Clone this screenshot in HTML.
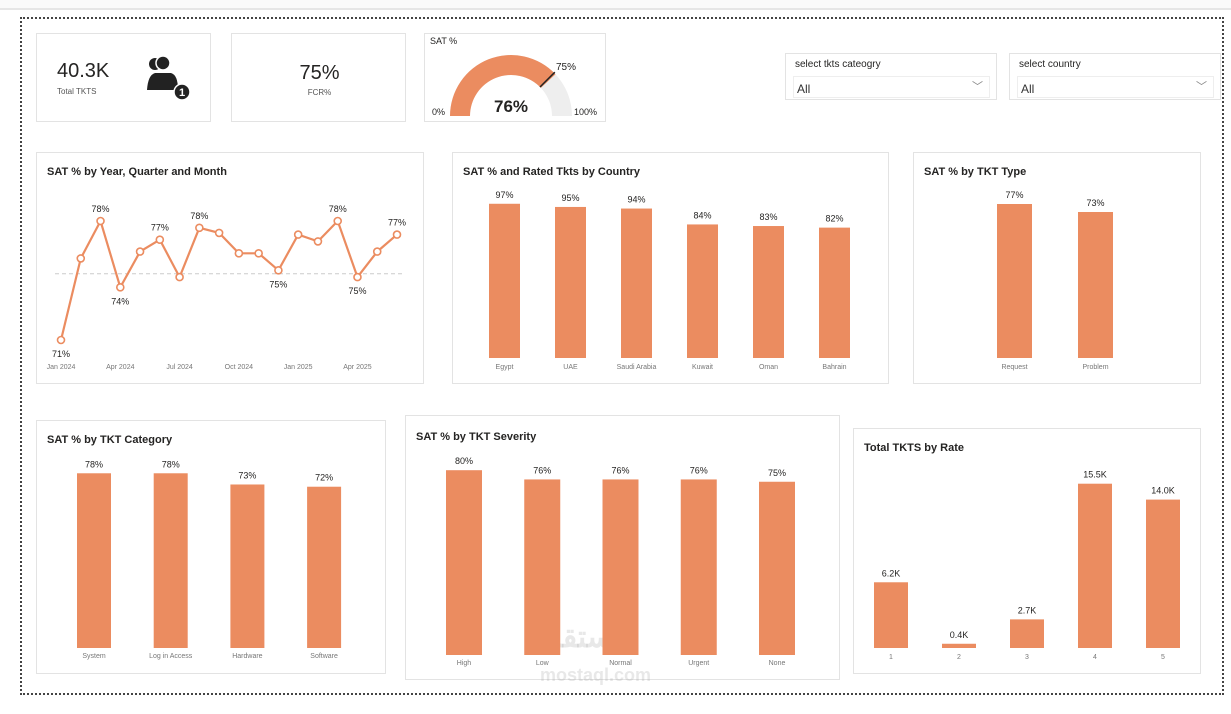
<!DOCTYPE html>
<html><head><meta charset="utf-8">
<style>
body{margin:0;width:1231px;height:714px;background:#fff;font-family:"Liberation Sans",sans-serif;overflow:hidden;position:relative}
.p{position:absolute;background:#fff;border:1px solid #e3e3e3;box-sizing:border-box}
.t{position:absolute;font-weight:bold;font-size:11px;color:#252423}
svg{position:absolute;left:0;top:0}
</style></head><body>
<div style="position:absolute;left:0;top:0;width:1231px;height:8px;border-bottom:2px solid #e6e6e6;background:#fafafa"></div>
<div style="position:absolute;left:20px;top:17px;width:1204px;height:678px;border:2px dotted #444;box-sizing:border-box"></div>

<div class="p" style="left:36px;top:33px;width:175px;height:89px">
 <div style="position:absolute;left:20px;top:26px;font-size:20px;color:#252423">40.3K</div>
 <div style="position:absolute;left:20px;top:53px;font-size:8px;color:#555">Total TKTS</div>
 <svg width="50" height="50" style="left:108px;top:20px" viewBox="0 0 50 50">
  <circle cx="10" cy="10" r="6" fill="#222"/><circle cx="18" cy="9" r="7" fill="#222" stroke="#fff" stroke-width="1.5"/>
  <path d="M2 36 Q3 21 10 19 L26 19 Q33 21 33 36 Z" fill="#222"/>
  <circle cx="37" cy="38" r="8" fill="#222" stroke="#fff" stroke-width="1.5"/>
  <text x="37" y="42" font-size="11" font-weight="bold" fill="#fff" text-anchor="middle">1</text>
 </svg>
</div>
<div class="p" style="left:231px;top:33px;width:175px;height:89px">
 <div style="position:absolute;left:0;width:175px;text-align:center;top:28px;font-size:20px;color:#252423">75%</div>
 <div style="position:absolute;left:0;width:175px;text-align:center;top:54px;font-size:8px;color:#555">FCR%</div>
</div>
<div class="p" style="left:424px;top:33px;width:182px;height:89px">
 <div style="position:absolute;left:5px;top:2px;font-size:9px;color:#252423">SAT %</div>
 <svg id="gauge" width="182" height="89"></svg>
</div>

<div class="p" style="left:785px;top:53px;width:212px;height:47px">
 <div style="position:absolute;left:9px;top:5px;font-size:10px;color:#252423">select tkts cateogry</div>
 <div style="position:absolute;left:7px;top:22px;width:197px;height:22px;border:1px solid #eee;font-size:12px;color:#333;line-height:24px;padding-left:3px;box-sizing:border-box">All<span style="position:absolute;right:6px;top:-2px;color:#888;font-size:11px">﹀</span></div>
</div>
<div class="p" style="left:1009px;top:53px;width:212px;height:47px">
 <div style="position:absolute;left:9px;top:5px;font-size:10px;color:#252423">select country</div>
 <div style="position:absolute;left:7px;top:22px;width:197px;height:22px;border:1px solid #eee;font-size:12px;color:#333;line-height:24px;padding-left:3px;box-sizing:border-box">All<span style="position:absolute;right:6px;top:-2px;color:#888;font-size:11px">﹀</span></div>
</div>

<div class="p" style="left:36px;top:152px;width:388px;height:232px"><div class="t" style="left:10px;top:13px">SAT % by Year, Quarter and Month</div></div>
<div class="p" style="left:452px;top:152px;width:437px;height:232px"><div class="t" style="left:10px;top:13px">SAT % and Rated Tkts by Country</div></div>
<div class="p" style="left:913px;top:152px;width:288px;height:232px"><div class="t" style="left:10px;top:13px">SAT % by TKT Type</div></div>
<div class="p" style="left:36px;top:420px;width:350px;height:254px"><div class="t" style="left:10px;top:13px">SAT % by TKT Category</div></div>
<div class="p" style="left:405px;top:415px;width:435px;height:265px"><div class="t" style="left:10px;top:15px">SAT % by TKT Severity</div></div>
<div class="p" style="left:853px;top:428px;width:348px;height:246px"><div class="t" style="left:10px;top:13px">Total TKTS by Rate</div></div>

<div style="position:absolute;left:540px;top:620px;font-size:30px;font-weight:bold;color:rgba(150,150,150,0.22)">مستقل<br><span style="font-size:18px">mostaql.com</span></div>

<svg id="charts" width="1231" height="714"></svg>

<script>
const NS="http://www.w3.org/2000/svg";
const C="#EB8C60";
function el(parent,tag,attrs,text){const e=document.createElementNS(NS,tag);for(const k in attrs)e.setAttribute(k,attrs[k]);if(text!==undefined)e.textContent=text;parent.appendChild(e);return e;}

// Line chart data
const lineValues=[71,75.8,78,74.1,76.2,76.9,74.7,77.6,77.3,76.1,76.1,75.1,77.2,76.8,78,74.7,76.2,77.2];
const lineLabelIdx=[0,2,3,5,7,11,14,15,17];
const lineTickLabels=["Jan 2024","Apr 2024","Jul 2024","Oct 2024","Jan 2025","Apr 2025"];
const lineAvg=74.9;
// Country chart
const countryCats=["Egypt","UAE","Saudi Arabia","Kuwait","Oman","Bahrain"];
const countryVals=[97,95,94,84,83,82];
// Type chart
const typeCats=["Request","Problem"];
const typeVals=[77,73];
// Category chart
const categoryCats=["System","Log in Access","Hardware","Software"];
const categoryVals=[78,78,73,72];
// Severity chart
const severityCats=["High","Low","Normal","Urgent","None"];
const severityVals=[80,76,76,76,75];
// Rate chart
const rateCats=["1","2","3","4","5"];
const rateVals=[6.2,0.4,2.7,15.5,14.0];
// Gauge
const gaugeValue=76, gaugeTarget=75;

const svg=document.getElementById("charts");

// line chart
(function(){
 const x=i=>61+i*(397-61)/(lineValues.length-1);
 const y=v=>340-(v-71)*17;
 const av=el(svg,"line",{x1:55,x2:403,y1:y(lineAvg),y2:y(lineAvg),stroke:"#ccc","stroke-dasharray":"4,3"});
 
 
 const pl=el(svg,"polyline",{points:lineValues.map((v,i)=>x(i)+","+y(v)).join(" "),fill:"none",stroke:C,"stroke-width":2.2});
 
 
 lineValues.forEach((v,i)=>{
  const c=el(svg,"circle",{cx:x(i),cy:y(v),r:3.5,fill:"#fff",stroke:C,"stroke-width":1.6});
  
  
 });
 lineLabelIdx.forEach(i=>{
  const v=lineValues[i];
  const below=(i===0||(i>0&&lineValues[i-1]>v&&(i===lineValues.length-1||lineValues[i+1]>v)));
  const t=el(svg,"text",{x:x(i),y:below?y(v)+17:y(v)-9,"font-size":9,"text-anchor":"middle",fill:"#252423"},Math.round(v)+"%");
  
  
 });
 lineTickLabels.forEach((s,k)=>{
  const t=el(svg,"text",{x:x(k*3),y:369,"font-size":7,"text-anchor":"middle",fill:"#777"},s);
  
  
 });
})();

function bars(cats,vals,x0,step,bw,base,scale,fmt,catY,prefix){
 vals.forEach((v,i)=>{
  const cx=x0+i*step,h=v*scale;
  const r=el(svg,"rect",{x:cx-bw/2,y:base-h,width:bw,height:h,fill:C});
  
  
  const t=el(svg,"text",{x:cx,y:base-h-6,"font-size":9,"text-anchor":"middle",fill:"#252423"},fmt(v));
  
  
  const c=el(svg,"text",{x:cx,y:catY,"font-size":7,"text-anchor":"middle",fill:"#777"},cats[i]);
  
  
 });
}
const pct=v=>v+"%";
bars(countryCats,countryVals,504.5,66,31,358,1.59,pct,369,"country");
bars(typeCats,typeVals,1014.5,81,35,358,2.0,pct,369,"type");
bars(categoryCats,categoryVals,94,76.7,34,648,2.24,pct,658,"category");
bars(severityCats,severityVals,464,78.25,36,655,2.31,pct,665,"severity");
bars(rateCats,rateVals,891,68,34,648,10.6,v=>v.toFixed(1)+"K",659,"rate");

// gauge
(function(){
 const g=document.getElementById("gauge");
 const cx=86,cy=82,R=61,r=41;
 function arc(a0,a1){
  const p=(a,rad)=>[cx-rad*Math.cos(a),cy-rad*Math.sin(a)];
  const [x1,y1]=p(a0,R),[x2,y2]=p(a1,R),[x3,y3]=p(a1,r),[x4,y4]=p(a0,r);
  return `M${x1},${y1} A${R},${R} 0 0 1 ${x2},${y2} L${x3},${y3} A${r},${r} 0 0 0 ${x4},${y4} Z`;
 }
 const bg=el(g,"path",{d:arc(0,Math.PI),fill:"#eeeeee"});
 
 
 const fg=el(g,"path",{d:arc(0,Math.PI*gaugeValue/100),fill:C});
 
 
 const a=Math.PI*gaugeTarget/100;
 const tl=el(g,"line",{x1:cx-r*Math.cos(a),y1:cy-r*Math.sin(a),x2:cx-(R+1)*Math.cos(a),y2:cy-(R+1)*Math.sin(a),stroke:"#222","stroke-width":1.5});
 
 
 const vt=el(g,"text",{x:cx,y:cy-4,"font-size":17,"font-weight":"bold","text-anchor":"middle",fill:"#252423"},gaugeValue+"%");
 
 
 const tt=el(g,"text",{x:131,y:36,"font-size":10,fill:"#252423"},gaugeTarget+"%");
 
 
 const mn=el(g,"text",{x:7,y:81,"font-size":9,fill:"#252423"},"0%");
 
 
 const mx=el(g,"text",{x:149,y:81,"font-size":9,fill:"#252423"},"100%");
 
 
})();
</script>
</body></html>
